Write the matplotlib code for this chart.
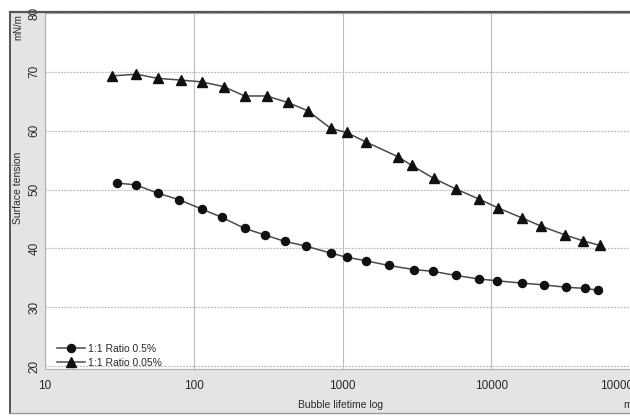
import matplotlib.pyplot as plt
from matplotlib.patches import Rectangle
from matplotlib.lines import Line2D

plt.rcParams["font.family"] = ["Liberation Sans", "DejaVu Sans"]

# ── data ──────────────────────────────────────────────────────────────────────
life_05 = [30.3, 40.6, 57.1, 79.1, 112.8, 153.7, 219.6, 299, 408, 565,
           832, 1066, 1432, 2042, 3006, 4036, 5770, 8240, 10870, 16030,
           22500, 31600, 42500, 52000]
st_05 = [51.1, 50.8, 49.4, 48.3, 46.7, 45.3, 43.4, 42.3, 41.2, 40.4,
         39.2, 38.5, 37.9, 37.1, 36.4, 36.1, 35.4, 34.8, 34.5, 34.1,
         33.8, 33.4, 33.2, 32.9]

life_005 = [28.0, 41.2, 57.1, 81.5, 112.8, 158.5, 219.6, 309, 428, 583,
            832, 1066, 1432, 2350, 2920, 4100, 5770, 8240, 11050, 16030,
            21500, 31200, 41200, 53700]
st_005 = [69.3, 69.6, 68.9, 68.6, 68.3, 67.5, 65.9, 65.9, 64.8, 63.4,
          60.4, 59.7, 58.1, 55.6, 54.1, 51.9, 50.1, 48.4, 46.9, 45.2,
          43.8, 42.3, 41.3, 40.5]

x_ticks = [10, 100, 1000, 10000, 100000]
x_tick_labels = ["10", "100", "1000", "10000", "100000"]
y_ticks = [20, 30, 40, 50, 60, 70, 80]

# ── colours ───────────────────────────────────────────────────────────────────
C_BAND = "#e4e4e4"
C_GRID = "#bdbdbd"
C_LINE = "#4a4a4a"
C_MARK = "#111111"
C_TEXT = "#2a2a2a"

W, H = 630, 417


def px(x, y):
    """pixel coords (top-left origin) -> figure fraction"""
    return x / W, 1 - y / H


fig = plt.figure(figsize=(6.3, 4.17), dpi=100)
fig.patch.set_facecolor("white")

# grey frame around the plot area (kept below the axes)
x0, y0 = px(10, 413)
x1, y1 = px(630, 12)
fig.patches.append(Rectangle((x0, y0), x1 - x0, y1 - y0, transform=fig.transFigure,
                             facecolor=C_BAND, edgecolor="none", zorder=-5))
fig.add_artist(Line2D([x0, x0], [y0, y1], transform=fig.transFigure,
                      color="#555555", lw=1.4, zorder=-4))
fig.add_artist(Line2D([x0, 1], [y1, y1], transform=fig.transFigure,
                      color="#555555", lw=1.6, zorder=5))
fig.add_artist(Line2D([x0, 1], [y0, y0], transform=fig.transFigure,
                      color="#9a9a9a", lw=1.0, zorder=-4))

# axes: left edge on x=10, top 13px, bottom 369px, right runs past the figure
al, ab = px(45, 369)
ar, at = px(640, 13)
ax = fig.add_axes([al, ab, ar - al, at - ab])
ax.set_facecolor("white")

ax.plot(life_05, st_05, color=C_LINE, lw=1.1, marker="o", ms=5.8,
        mfc=C_MARK, mec=C_MARK, label="1:1 Ratio 0.5%", zorder=3)
ax.plot(life_005, st_005, color=C_LINE, lw=1.1, marker="^", ms=7,
        mfc=C_MARK, mec=C_MARK, label="1:1 Ratio 0.05%", zorder=3)

ax.set_xscale("log")
ax.set_xlim(10, 100000)
ax.set_ylim(19.5, 80)
ax.set_xticks(x_ticks)
ax.set_xticklabels(x_tick_labels)
ax.minorticks_off()
ax.set_yticks(y_ticks)

ax.grid(axis="x", color=C_GRID, lw=0.8, linestyle="-")
ax.grid(axis="y", color=C_GRID, lw=0.9, linestyle=(0, (1.5, 1)))

ax.tick_params(length=0, colors=C_TEXT, labelsize=8.5)
ax.tick_params(axis="x", pad=8)
ax.tick_params(axis="y", pad=3)
for lab in ax.get_yticklabels():
    lab.set_rotation(90)
    lab.set_va("center")
# last x label is pulled inside, as the software does
ax.get_xticklabels()[-1].set_ha("right")

for s in ax.spines.values():
    s.set_color("#b0b0b0")
    s.set_linewidth(0.8)
ax.spines["right"].set_visible(False)

# axis titles placed like the instrument software does it
tx, ty = px(18, 188)
fig.text(tx, ty, "Surface tension", rotation=90, ha="center", va="center",
         fontsize=7.5, color=C_TEXT)
tx, ty = px(18, 14)
fig.text(tx, ty, "mN/m", rotation=90, ha="center", va="top",
         fontsize=7, color=C_TEXT)
tx, ty = px(341, 405)
fig.text(tx, ty, "Bubble lifetime log", ha="center", va="center",
         fontsize=7.5, color=C_TEXT)
tx, ty = px(623, 405)
fig.text(tx, ty, "m", ha="left", va="center", fontsize=7.5, color=C_TEXT)

ax.legend(loc="lower left", bbox_to_anchor=(0.007, -0.02), frameon=False,
          fontsize=7.5, handlelength=2.6, handletextpad=0.3,
          labelspacing=0.35, borderaxespad=0.4, labelcolor=C_TEXT)

fig.savefig("out.png", dpi=100)
